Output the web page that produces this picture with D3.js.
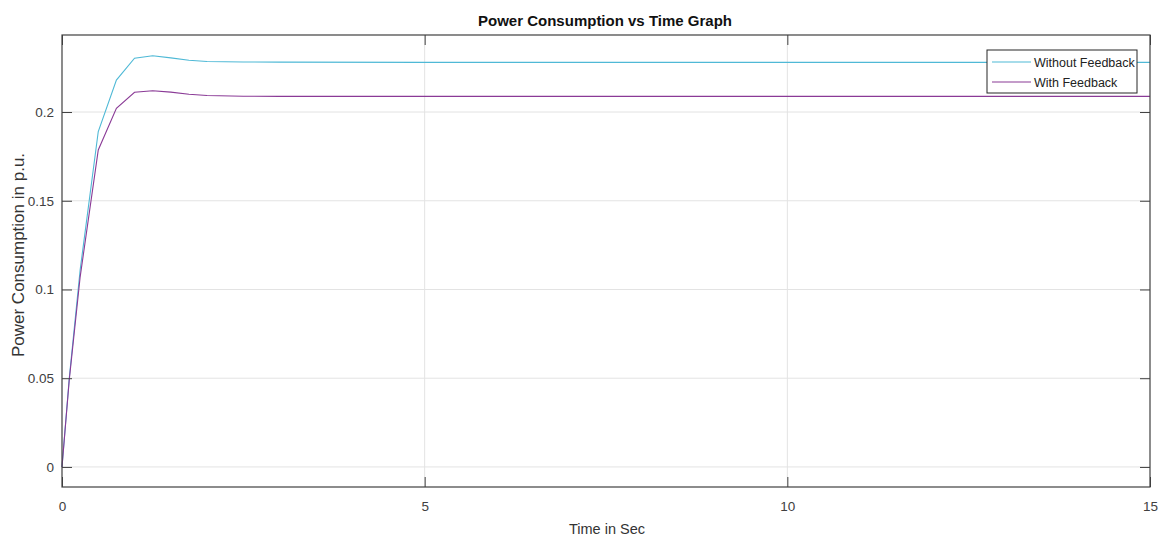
<!DOCTYPE html>
<html>
<head>
<meta charset="utf-8">
<script src="https://cdn.jsdelivr.net/npm/d3@7"></script>
<style>
  body { margin: 0; background: #fff; }
  text { font-family: "Liberation Sans", Arial, sans-serif; }
</style>
</head>
<body>
<div class="chart"></div>
<script>
// time samples (s) and the two power curves
var timeSec = [0, 0.1, 0.25, 0.5, 0.75, 1.0, 1.25, 1.5, 1.75, 2.0, 2.5, 3, 5, 10, 15];
var withoutFeedback = [0, 0.05, 0.111, 0.189, 0.218, 0.2303, 0.2317, 0.2305, 0.2292, 0.2285, 0.2282, 0.2281, 0.228, 0.228, 0.228];
var withFeedback = [0, 0.049, 0.107, 0.1786, 0.2021, 0.2111, 0.212, 0.2112, 0.21, 0.2093, 0.2089, 0.2088, 0.2088, 0.2088, 0.2088];
var xTicks = [0, 5, 10, 15];
var yTicks = [0, 0.05, 0.1, 0.15, 0.2];
var seriesNames = ["Without Feedback", "With Feedback"];

var svgWidth = 1159;
var svgHeight = 537;
var margin = { top: 35, right: 9, bottom: 50, left: 62 };
var width = svgWidth - margin.left - margin.right;
var height = svgHeight - margin.top - margin.bottom;

var svg = d3.select(".chart")
  .append("svg")
  .attr("width", svgWidth)
  .attr("height", svgHeight)
  .append("g")
  .attr("transform", "translate(" + margin.left + "," + margin.top + ")");

var x = d3.scaleLinear().domain([0, 15]).range([0, width]);
var y = d3.scaleLinear().domain([-0.0113, 0.2434]).range([height, 0]);

// grid
svg.append("g").selectAll("line").data(xTicks.slice(1, -1)).enter().append("line")
  .attr("x1", d => x(d)).attr("x2", d => x(d))
  .attr("y1", 0).attr("y2", height)
  .attr("stroke", "#e3e3e3").attr("stroke-width", 1);
svg.append("g").selectAll("line").data(yTicks).enter().append("line")
  .attr("x1", 0).attr("x2", width)
  .attr("y1", d => y(d)).attr("y2", d => y(d))
  .attr("stroke", "#e3e3e3").attr("stroke-width", 1);

// lines
var colors = ["#4fb9d6", "#8a3a96"];
var allSeries = [withoutFeedback, withFeedback];
var line = d3.line()
  .x((d, i) => x(timeSec[i]))
  .y(d => y(d));

allSeries.forEach(function(s, k) {
  svg.append("path")
    .datum(s)
    .attr("fill", "none")
    .attr("stroke", colors[k])
    .attr("stroke-width", 1.1)
    .attr("d", line);
});

// axes with inward ticks
var bottomAxis = d3.axisBottom(x).tickValues(xTicks).tickSize(-10).tickPadding(14).tickFormat(d3.format("d"));
var leftAxis = d3.axisLeft(y).tickValues(yTicks).tickSize(-10).tickPadding(8).tickFormat(d => d === 0 ? "0" : d3.format("")(d));
var topAxis = d3.axisTop(x).tickValues(xTicks).tickSize(-10).tickFormat("");
var rightAxis = d3.axisRight(y).tickValues(yTicks).tickSize(-10).tickFormat("");

function styleAxis(g) {
  g.select(".domain").remove();
  g.selectAll(".tick line").attr("stroke", "#404040");
  g.selectAll(".tick text").attr("fill", "#404040").style("font-size", "13.5px").style("font-family", "Liberation Sans, Arial, sans-serif");
}

svg.append("g").attr("transform", "translate(0," + height + ")").call(bottomAxis).call(styleAxis);
svg.append("g").call(leftAxis).call(styleAxis);
svg.append("g").call(topAxis).call(styleAxis);
svg.append("g").attr("transform", "translate(" + width + ",0)").call(rightAxis).call(styleAxis);

svg.append("rect")
  .attr("width", width).attr("height", height)
  .attr("fill", "none").attr("stroke", "#404040").attr("stroke-width", 1.2);

// title and labels
svg.append("text")
  .attr("x", width / 2 - 1).attr("y", -9)
  .attr("text-anchor", "middle")
  .style("font-size", "15px").style("font-weight", "bold")
  .attr("fill", "#111")
  .text("Power Consumption vs Time Graph");

svg.append("text")
  .attr("x", width / 2 + 1).attr("y", height + 47)
  .attr("text-anchor", "middle")
  .style("font-size", "14.5px")
  .attr("fill", "#333")
  .text("Time in Sec");

svg.append("text")
  .attr("transform", "rotate(-90)")
  .attr("x", -220).attr("y", -38)
  .attr("text-anchor", "middle")
  .style("font-size", "17px")
  .attr("fill", "#333")
  .text("Power Consumption in p.u.");

// legend
var lg = svg.append("g").attr("transform", "translate(" + (width - 163) + ",15)");
lg.append("rect")
  .attr("width", 150).attr("height", 43)
  .attr("fill", "#fff").attr("stroke", "#262626").attr("stroke-width", 1);
seriesNames.forEach(function(name, k) {
  var yy = 12 + k * 20;
  lg.append("line")
    .attr("x1", 5).attr("x2", 44).attr("y1", yy).attr("y2", yy)
    .attr("stroke", colors[k]).attr("stroke-width", 1.1);
  lg.append("text")
    .attr("x", 47).attr("y", yy + 4.5)
    .style("font-size", "12.5px")
    .attr("fill", "#222")
    .text(name);
});
</script>
</body>
</html>
